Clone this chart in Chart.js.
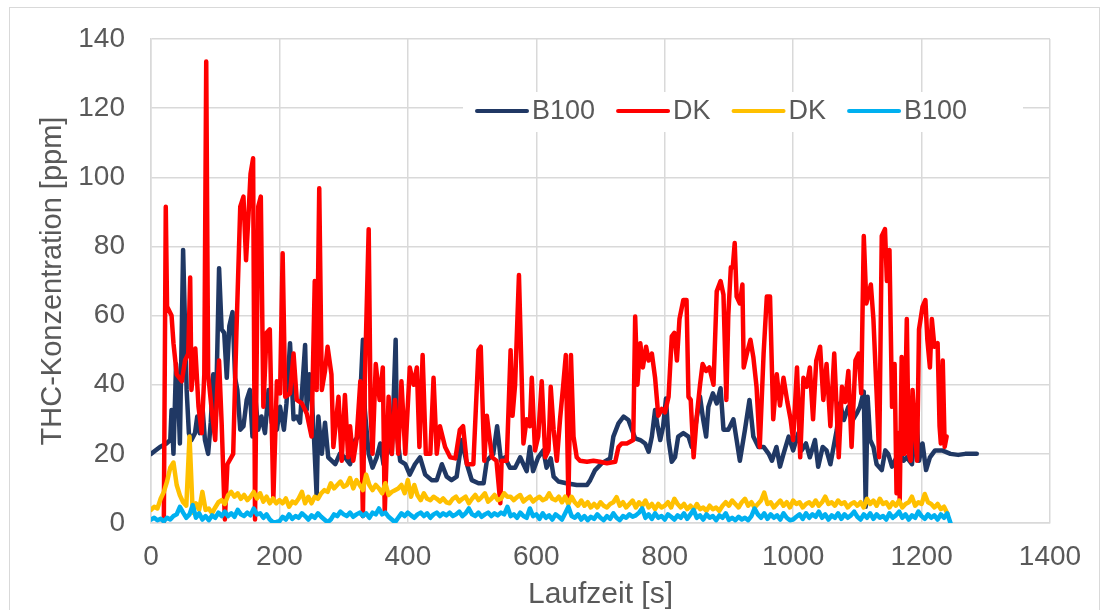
<!DOCTYPE html>
<html>
<head>
<meta charset="utf-8">
<script src="https://cdn.jsdelivr.net/npm/chart.js@4.4.1/dist/chart.umd.min.js"></script>
<style>
  html, body { margin: 0; padding: 0; background: #fff; }
  #wrap { position: relative; width: 1105px; height: 610px; overflow: hidden; }
  #frame { position: absolute; left: 9px; top: 7px; width: 1091px; height: 640px; border: 1px solid #d9d9d9; box-sizing: border-box; pointer-events: none; }
  #thcChart { position: absolute; left: 0; top: 0; }
</style>
</head>
<body>
<div id="wrap">
  <div id="frame"></div>
  <canvas id="thcChart" width="1105" height="610"></canvas>
</div>
<script>
// axis ticks
const xTicks = [0, 200, 400, 600, 800, 1000, 1200, 1400];
const yTicks = [0, 20, 40, 60, 80, 100, 120, 140];

const seriesLabels = ['B100', 'DK', 'DK', 'B100'];

// B100 (dark) - [time s, ppm]
const b100High = [
  [0,20],[14,22],[24,23],[30,24],[32,32.7],[35,20],[39,46],[43,33.6],[45,23],[50,79],
  [55.5,38.5],[59,26],[63,24],[68.5,26],[72,30.8],[76,26],[80.5,32.7],[84,24],[89,20],[93,29],
  [97,43],[101,30.8],[106,73.7],[110,56],[114,55],[118,42],[122,57],[127,61],[131,42],[134.5,38.5],
  [139,27],[144,28],[149,35.6],[154,38.5],[158,25],[162,37.5],[167,27],[172,30.8],[177.5,26],[183,38.5],
  [188,29],[196,27],[201,33.6],[207,27],[211,34.6],[216.5,52],[222,30],[227,30.8],[232,29],[240,51.5],
  [242.5,32.7],[246.6,43],[250,37.5],[254,24],[258,7.6],[260.6,30.8],[266,20],[271,29],[276,19],[287,17],
  [294,20],[302,19],[310,17],[318,24],[323,25],[330,53],[333,32.7],[339,20],[345,16],[351.5,19],
  [357,23],[362,17],[370,22],[375,20],[381,53],[383,26],[388,18],[396,17],[403,14],[411,17],
  [419,19],[427,14],[437,12.4],[445,12.4],[453,17],[460.5,13.4],[468,12.4],[476,13.4],[484,24],[492,17],
  [499.5,12.4],[510,11.5],[518,11.5],[523,18],[528,19],[533,20],[539,28],[545,18],[551,19],[559,16],
  [567,16],[575,19],[580,17],[585,15],[590,22],[595,15],[603,19],[611,21],[616,16],[622.5,18.7],
  [627,13.4],[634.5,12],[647,11.5],[663,11],[679,11],[684,12.4],[691.6,15.3],[702,17.3],[715,18.7],[720,25],
  [728,28.8],[736,30.8],[743.5,29.8],[749,27],[754,24.5],[762,24],[769.5,23],[775,20.6],[780,25],[785,32.7],
  [789,27.9],[793,24],[797.5,27.9],[802,36],[806,24],[811,17.7],[816,19],[821,25],[829,26],[837,25],
  [842,22],[847,27],[855,36.5],[860,29.8],[864.5,25],[868,33.6],[875,37.5],[881,34.6],[887,39],[891.5,27],
  [899,27],[907,30],[912,24],[917,18],[925,27],[932,35.6],[938,25],[946,22],[954,22],[962,20],
  [967,18],[974,22],[979.5,16.3],[985,20],[993,25],[1000,21],[1008,26],[1013,21],[1020,23],[1026,19],
  [1034,24],[1039,16.3],[1046,22],[1052,21],[1058,17],[1063,22],[1068,27],[1073,34.6],[1079,29.8],[1086,33.6],
  [1093,29.8],[1099,31.7],[1104,33.6],[1110,38],[1113,4.7],[1116,36.5],[1120,24],[1125,22],[1130,17],[1138,15.3],
  [1143.5,21],[1148,20],[1154,16.3],[1161,19],[1167,20],[1172,18],[1177,19],[1185,17],[1192,30.8],[1196,18],
  [1201.5,23],[1207,15.3],[1213,19],[1221,21],[1232,21],[1245,20],[1257,19.7],[1268,20],[1286,20]
];

// DK (red) - [time s, ppm]
const dkHigh = [
  [20,0.5],[23,91.5],[25,62.6],[32,60],[35,52],[40,43],[48,41],[53,47],[58,49],[61,71],
  [63,38.5],[69,50.5],[74,33.6],[79,26],[83,43],[86,133.5],[89,43],[94.5,32.7],[100,24],[103,38.5],
  [106,47],[110,29],[115,1],[119,17],[128,20],[133,55],[139,91.5],[144,94.4],[148,76],[152,89.6],
  [155,101],[159,105.5],[162,1],[167,91.5],[171,94.4],[175,33.6],[180,55],[185,56],[190.5,6.7],[196,41],
  [201,37.5],[205,78],[209,36.5],[216.5,37.5],[222,49],[227,35.6],[235,34.6],[242.5,31.7],[250,25],[255,70],
  [258,38.5],[262,96.8],[266,38.5],[271,44],[275,51],[281,43],[284,22],[292,36.5],[297,18],[302,37],
  [307,19],[310,28],[315,18],[320,24],[326,41],[330,2],[333,41],[339,85],[342,32],[345,20],
  [350,46],[356,35.6],[361,45],[364,3],[370,36.5],[375,20],[380,35.6],[385,20],[390,41],[396,20],
  [403,45],[409,40],[414,45],[418,22],[423,48.6],[428,20],[435,20],[440,42],[445,20],[450,28],
  [458,22],[466,19],[474,18.7],[481,27],[486,28],[492,17],[502,17],[510,50],[513.5,51],[519,18],
  [523,31],[531,19],[538,18],[544,5.7],[546,18],[554,18],[560,50],[563,31],[567,40],[573,71.7],
  [580,23],[585,30],[590,28],[593,42],[598,21],[603,25],[608.5,41],[614,19],[619,21],[622.5,39.4],
  [627,27],[632,18],[637,30],[642,40],[646,48.6],[650,6.6],[654,48.6],[658,25],[663,19],[668,18],
  [679,17.7],[689,18],[699,17.7],[710,17.3],[723,17.7],[728,22],[733,23],[741,23],[751,24],[754,59.7],
  [757.5,40],[762,52],[766,45],[771,51],[775,47],[780,49],[785,42],[790,31],[795.5,33],[800.5,32],
  [806,36.5],[811,54],[815,55],[819,47],[823,59],[829,64.5],[834,64.5],[837,36.5],[840.5,35.6],[845,19],
  [850,31],[855,40],[859,46],[864.5,44],[869.5,45],[876,40],[881,67],[887,70],[891.5,66],[896,35.6],
  [899,60],[903,74],[906,74],[909,81],[912,65.5],[917,63.5],[921,69],[923,45],[928,49],[933.5,53],
  [938,48],[943,39.4],[948,22],[954,49],[959,65.5],[964,65.5],[969,30],[974.5,43],[979.5,34],[985,42],
  [991,35],[996,30],[1000,24],[1006,45],[1011,19],[1016,42],[1021,39.4],[1026,45],[1031,30],[1036,47],
  [1042,51],[1047,35.6],[1052,46],[1058,28],[1064,49],[1071,19],[1076,39.4],[1081,35],[1086,44],[1091,22],
  [1097,47],[1102,49],[1106,37.5],[1110,83],[1114,63.5],[1121,69],[1125,59],[1130,37.5],[1134,19],[1138,83],
  [1143,85],[1146,70],[1150,79],[1154,33.6],[1158,46],[1161,8.6],[1164,26],[1166,6.6],[1169,48],[1173,20],
  [1177,59],[1180,20],[1183,18],[1186,38.5],[1190,26],[1193,18],[1196,56],[1201.5,62.6],[1206,64.5],[1209,53],
  [1213,45],[1216,59],[1220,51],[1225,52],[1228,28],[1230,23],[1233,47],[1236,22],[1239,25]
];

// low series, one reading every 5 s starting at 0 s
const sampleStep = 5;
const dkLow = [
  3.8, 4.7, 4.2, 7, 9, 12, 16, 17.5, 11, 8, 6, 5, 25, 3, 5.7, 3.8, 9, 3.8, 4.2, 2.8,
  4.5, 6, 6.6, 5.5, 8, 9, 7.6, 8.6, 7, 8.1, 6.6, 7.6, 9, 7.1, 8.6, 6.2, 7.6, 5.7, 7.1, 5.7,
  6.6, 5.7, 7.1, 4.7, 6.2, 5.7, 7.1, 9, 5.7, 7.6, 5.7, 7.6, 7, 8.6, 9.5, 9, 11.5, 10, 11, 12,
  10.5, 11, 13, 10, 12.4, 11, 9.5, 14, 11, 9.5, 11, 10, 8.6, 11.5, 8.1, 9, 9.5, 10, 11, 8.6,
  12.4, 7.6, 11, 8, 6.6, 8.6, 7, 6.6, 7.6, 7, 6.2, 7.1, 6, 5.7, 7, 7.6, 6.2, 7, 7.6, 5.7,
  7, 8.1, 6.6, 7.5, 8.6, 6.2, 7, 8.1, 6.6, 7, 8.6, 7.6, 7.6, 6.6, 7.5, 8.1, 6.2, 7, 7.6, 6.2,
  7, 7.6, 6.6, 7, 8.6, 7, 6.6, 7.6, 6, 7.6, 5.5, 7.6, 6, 5, 6.5, 5, 6, 4.5, 5.5, 4.5,
  6, 5, 4.5, 5.5, 6, 7.5, 5, 6, 4.5, 5.5, 6.5, 4.5, 6, 5, 6.5, 4.5, 5.5, 4, 5.5, 4.5,
  5, 6, 4.5, 7, 5.5, 4.5, 5.5, 4, 5, 3.8, 5.5, 4, 4.5, 3.5, 5, 4, 4.5, 3.5, 5, 6,
  5, 6.5, 5.5, 4.5, 6, 7, 5, 6, 4.5, 5.5, 6.5, 8.8, 5.5, 6, 4.5, 5.5, 6.5, 5, 6, 4.5,
  6.5, 5.5, 6, 4.5, 5.5, 6, 5, 6.5, 5, 6, 7.6, 5.5, 6, 5, 6.5, 5.5, 6, 4.5, 5.5, 6,
  5, 6, 4.5, 7, 5.5, 6.5, 5, 7, 5.5, 6, 4.5, 6, 5, 6.5, 4.5, 5.5, 6, 7.6, 5, 6,
  5.5, 8.4, 6, 5.5, 4.5, 5.5, 4, 4.7, 2.8
];
const b100Low = [
  1, 1.5, 0.8, 1.2, 0.5, 1.5, 1, 2, 2.5, 4.7, 3, 1.5, 2.5, 5.2, 1.5, 2.8, 1, 2, 0.8, 2.2,
  1.5, 3, 2, 3.3, 2, 2.8, 1.8, 3.8, 2.5, 2, 3, 2.2, 4.2, 2.5, 2.8, 1.5, 2.5, 1, 0.2, 0.3,
  0.5, 1.8, 1, 2.5, 1.2, 2, 1.5, 2.8, 2, 1, 2.2, 1.5, 2.8, 1.8, 1, 0.2, 1, 2.5, 2, 3.3,
  2.5, 2, 3, 1.8, 2.5, 3, 2, 2.8, 1.5, 3, 2.5, 4.2, 2.5, 3, 1.8, 1, 0.2, 1.5, 2.8, 2,
  3, 2.2, 1.5, 2.5, 3, 2, 2.8, 1.5, 2.5, 3, 2, 2.8, 2.2, 3, 2, 2.5, 3.3, 2, 2.8, 4.2,
  2.5, 2, 3, 1.8, 2.5, 3, 2, 2.8, 2.2, 3, 2.5, 4.7, 2, 2.5, 1.5, 3, 2, 1.5, 4.2, 2,
  2.5, 1.2, 2.8, 1.5, 2.2, 1, 2.5, 1.8, 1, 2.8, 4.7, 2, 1.5, 2.5, 1, 2, 0.8, 1.8, 1.2, 2.5,
  1.5, 0.8, 2, 1.2, 2.8, 1.5, 0.8, 2, 1.5, 2.5, 1.8, 2.2, 3, 4.2, 1.5, 2.5, 1.2, 2.8, 1.5, 2,
  1, 2.5, 1.8, 1, 2.2, 1.5, 2.8, 1.2, 2.5, 3.8, 1.5, 2.2, 1, 2.5, 1.5, 2, 0.8, 2.2, 1.5, 2.8,
  0.9, 1.5, 0.8, 1.8, 1, 1.5, 0.8, 2, 4.2, 2.5, 1.5, 2.8, 1.2, 2.5, 1.5, 2.2, 1, 2.8, 1.5, 0.8,
  1, 1.8, 2.5, 1.2, 2.8, 1.5, 2.5, 1.8, 3.3, 1.5, 2.5, 1, 2.2, 1.5, 2.8, 1.2, 2.5, 1.5, 2.2, 3.3,
  1.8, 1, 2.5, 1.5, 2.8, 1.2, 2.5, 1.5, 2, 1, 2.8, 1.5, 2.2, 3.3, 1.5, 2.5, 1, 2.2, 1.5, 3.3,
  2, 1.2, 2.5, 1.5, 2.2, 1, 2.5, 1.5, 2.8, 0
];

const seriesColors = ['#203864', '#ff0000', '#ffc000', '#00b0f0'];

const fontFamily = '"Liberation Sans", Arial, sans-serif';
const textColor = '#595959';
const gridColor = '#d9d9d9';

function pairsToPoints(pairs) {
  return pairs.map(p => ({ x: p[0], y: p[1] }));
}
function stepToPoints(values) {
  return values.map((v, i) => ({ x: i * sampleStep, y: v }));
}

// legend drawn inside the plot area on a white box
const insideLegend = {
  id: 'insideLegend',
  afterDatasetsDraw(chart) {
    const ctx = chart.ctx;
    const sets = chart.data.datasets;
    ctx.save();
    ctx.fillStyle = '#ffffff';
    ctx.fillRect(463, 92, 560, 40);
    ctx.font = '27px ' + fontFamily;
    ctx.textBaseline = 'middle';
    ctx.textAlign = 'left';
    let x = 477;
    const y = 111;
    sets.forEach(ds => {
      ctx.strokeStyle = ds.borderColor;
      ctx.lineWidth = 4;
      ctx.lineCap = 'round';
      ctx.beginPath();
      ctx.moveTo(x, y);
      ctx.lineTo(x + 50, y);
      ctx.stroke();
      ctx.fillStyle = textColor;
      ctx.fillText(ds.label, x + 55, y + 1);
      x += 55 + ctx.measureText(ds.label).width + 23;
    });
    ctx.restore();
  }
};

const lineW = 4.5;

const ctx = document.getElementById('thcChart');
new Chart(ctx, {
  type: 'line',
  data: {
    datasets: [
      { label: seriesLabels[0], data: pairsToPoints(b100High), borderColor: seriesColors[0], borderWidth: lineW, order: 3 },
      { label: seriesLabels[1], data: pairsToPoints(dkHigh), borderColor: seriesColors[1], borderWidth: lineW, order: 2 },
      { label: seriesLabels[2], data: stepToPoints(dkLow), borderColor: seriesColors[2], borderWidth: lineW, order: 1 },
      { label: seriesLabels[3], data: stepToPoints(b100Low), borderColor: seriesColors[3], borderWidth: lineW, order: 0 }
    ]
  },
  options: {
    responsive: false,
    animation: false,
    events: [],
    elements: {
      point: { radius: 0 },
      line: { tension: 0, borderJoinStyle: 'round', borderCapStyle: 'round' }
    },
    layout: { padding: { left: 0, top: 39, right: 55, bottom: 0 } },
    plugins: {
      legend: { display: false },
      tooltip: { enabled: false }
    },
    scales: {
      x: {
        type: 'linear',
        min: xTicks[0],
        max: xTicks[xTicks.length - 1],
        afterBuildTicks: s => { s.ticks = xTicks.map(v => ({ value: v })); },
        afterFit: s => { s.height = 87; },
        grid: { color: gridColor, lineWidth: 1.5, drawTicks: false },
        border: { color: gridColor, width: 1.5 },
        ticks: {
          color: textColor,
          font: { family: fontFamily, size: 28 },
          padding: 17,
          maxRotation: 0,
          callback: v => String(v)
        },
        title: {
          display: true,
          text: 'Laufzeit [s]',
          color: textColor,
          font: { family: fontFamily, size: 30, lineHeight: 1 },
          padding: { top: 0, bottom: 0 }
        }
      },
      y: {
        min: yTicks[0],
        max: yTicks[yTicks.length - 1],
        afterBuildTicks: s => { s.ticks = yTicks.map(v => ({ value: v })); },
        afterFit: s => { s.width = 151; s.paddingTop = 0; s.paddingBottom = 0; },
        grid: { color: gridColor, lineWidth: 1.5, drawTicks: false },
        border: { color: gridColor, width: 1.5 },
        ticks: { color: textColor, font: { family: fontFamily, size: 28 }, padding: 26, callback: v => String(v) },
        title: {
          display: true,
          text: 'THC-Konzentration [ppm]',
          color: textColor,
          font: { family: fontFamily, size: 29 },
          padding: { top: 36, bottom: 0 }
        }
      }
    }
  },
  plugins: [insideLegend]
});
</script>
</body>
</html>
